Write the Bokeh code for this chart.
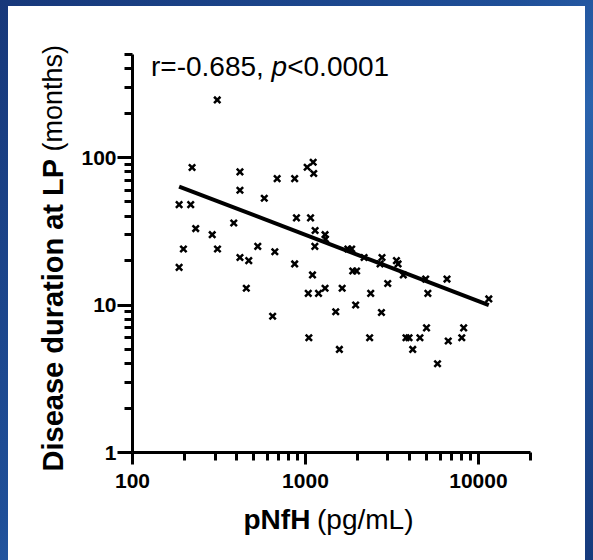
import math
from bokeh.plotting import figure
from bokeh.models import FixedTicker, PrintfTickFormatter, Label, Range1d, GlobalInlineStyleSheet
from bokeh.embed import file_html
from bokeh.resources import INLINE

# ---- data ----
pnfh = [309, 221, 186, 217, 232, 197, 186, 289, 310, 385,
        418, 418, 418, 470, 455, 530, 578, 665, 646, 686,
        866, 866, 887, 1023, 1108, 1116, 1070, 1137, 1133, 1098,
        1038, 1190, 1046, 1298, 1305, 1298, 1496, 1571, 1630, 1758,
        1850, 1877, 1975, 1950, 2183, 2383, 2350, 2770, 2700, 2750,
        2990, 3357, 3430, 3678, 3813, 3970, 4170, 4590, 5010, 4953,
        5100, 5800, 6580, 6690, 8010, 8215, 11480]
duration = [246, 85.6, 48, 48, 33, 24, 18, 30, 24, 36,
            80, 60, 21, 20, 13, 25, 53, 23, 8.4, 72,
            72, 19, 39, 86, 93, 78, 39, 32, 25, 16,
            12, 12, 6, 30, 28, 13, 9, 5, 13, 24,
            24, 17, 17, 10, 21, 12, 6, 21, 19, 8.9,
            14, 20, 19, 16, 6, 6, 5, 6, 7, 15,
            12, 4, 15, 5.7, 6, 7, 11]
fit_x = [186, 11480]
fit_y = [63.6, 10.0]

x_major = [100, 1000, 10000]
x_minor = [200, 300, 400, 500, 600, 700, 800, 900,
           2000, 3000, 4000, 5000, 6000, 7000, 8000, 9000, 20000]
y_major = [1, 10, 100]
y_minor = [2, 3, 4, 5, 6, 7, 8, 9, 20, 30, 40, 50, 60, 70, 80, 90,
           200, 300, 400, 500]

annotation_parts = ["r=-0.685, ", "p", "<0.0001"]
x_label_parts = ["pNfH", "(pg/mL)"]
y_label_parts = ["Disease duration at LP", "(months)"]

FONT = "Liberation Sans"
X0, X1 = 100, 20000
Y0, Y1 = 1, 500
W, H = 577, 554
ML, MR, MT, MB = 124, 55, 48, 108
FW, FH = W - ML - MR, H - MT - MB

p = figure(width=W, height=H, output_backend="svg", toolbar_location=None,
           x_axis_type="log", y_axis_type="log",
           x_range=Range1d(X0, X1), y_range=Range1d(Y0, Y1),
           min_border_left=ML, min_border_right=MR,
           min_border_top=MT, min_border_bottom=MB,
           background_fill_color="white", border_fill_color="white")
p.outline_line_color = None
p.xgrid.visible = False
p.ygrid.visible = False
p.styles = {"background-color": "white"}

p.xaxis.ticker = FixedTicker(ticks=x_major, minor_ticks=x_minor)
p.yaxis.ticker = FixedTicker(ticks=y_major, minor_ticks=y_minor)
for ax in (p.xaxis, p.yaxis):
    ax.formatter = PrintfTickFormatter(format="%d")
    ax.axis_line_width = 3
    ax.axis_line_color = "black"
    ax.major_tick_line_width = 3
    ax.minor_tick_line_width = 3
    ax.major_tick_line_color = "black"
    ax.minor_tick_line_color = "black"
    ax.major_tick_in = 0
    ax.minor_tick_in = 0
    ax.minor_tick_out = 8
    ax.major_label_text_font = FONT
    ax.major_label_text_font_style = "bold"
    ax.major_label_text_font_size = "21px"
    ax.major_label_text_color = "black"
p.xaxis.major_tick_out = 12
p.yaxis.major_tick_out = 15
p.xaxis.major_label_standoff = 9
p.yaxis.major_label_standoff = 1

p.line(fit_x, fit_y, line_width=4, color="black")
p.scatter(pnfh, duration, marker="x", size=9, line_width=2.5, color="black")

# convert figure-pixel positions (relative to figure top-left) into data coordinates
def dx(px):
    return 10 ** (math.log10(X0) + (px - ML) / FW * (math.log10(X1) - math.log10(X0)))

def dy(py):
    return 10 ** (math.log10(Y0) + (MT + FH - py) / FH * (math.log10(Y1) - math.log10(Y0)))

def lab(text, px, py, size, style="normal", angle=0.0, side=None, align="left"):
    l = Label(x=dx(px), y=dy(py), x_units="data", y_units="data", text=text,
              text_font=FONT, text_font_size=size, text_font_style=style,
              text_color="black", text_align=align, text_baseline="alphabetic",
              angle=angle)
    if side is None:
        p.add_layout(l)
    else:
        p.add_layout(l, side)

# annotation inside plot (figure pixel coords)
lab(annotation_parts[0], 142.5, 60, "28px")
lab(annotation_parts[1], 263.1, 60, "28px", style="italic")
lab(annotation_parts[2], 278.7, 60, "28px")

# x axis label
lab(x_label_parts[0], 235, 512.5, "28px", style="bold", side="below")
lab(x_label_parts[1], 308.5, 512.5, "28px", side="above")

# y axis label (rotated)
lab(y_label_parts[0], 44.5, 465, "29px", style="bold", angle=math.pi / 2, side="left")
lab(y_label_parts[1], 44.5, 145, "27px", angle=math.pi / 2, side="right")

p.stylesheets = [GlobalInlineStyleSheet(css=(
    "html, body { background: linear-gradient(135deg, #17387a 0%, #1f4f98 45%, "
    "#2a63ad 60%, #163a7c 100%); } body { padding: 6px 0 0 8px !important; }"))]

open("out.html", "w").write(file_html(p, INLINE))
